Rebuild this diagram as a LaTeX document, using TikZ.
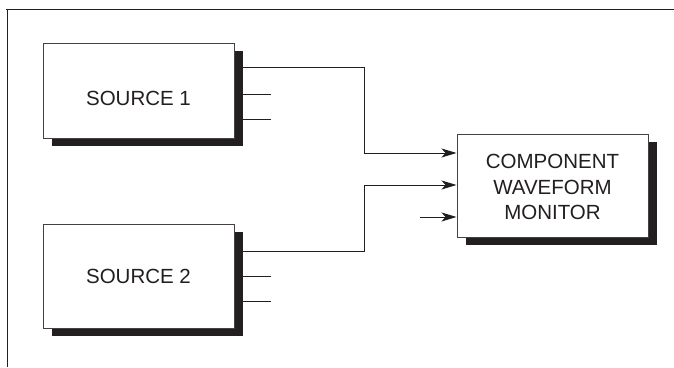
\documentclass[tikz,border=0pt]{standalone}
\usepackage{fontspec}
\setmainfont{Liberation Sans}
\usetikzlibrary{shadows,arrows.meta}
\definecolor{ink}{HTML}{231F20}
\begin{document}
\begin{tikzpicture}[x=1pt,y=-1pt,
  blk/.style={draw=ink!85, line width=1pt, fill=white, rectangle, inner sep=0pt,
    minimum width=191pt, font=\fontsize{20.5}{25.5}\selectfont, text=ink, align=center,
    drop shadow={shadow xshift=8.5pt, shadow yshift=-7.5pt, fill=ink, opacity=1}},
  wire/.style={draw=ink, line width=1pt},
  arr/.style={wire, -{Stealth[length=15pt,width=9pt,inset=4pt]}},
  frame/.style={draw=ink, line width=1.7pt}]
\useasboundingbox (0,0) rectangle (674,367);
\fill[white] (0,0) rectangle (674,367);
% frame
\draw[frame] (6,9.5) -- (674,9.5);
\draw[frame] (7.5,9.5) -- (7.5,367);
% blocks
\node[blk, minimum height=95pt] (s1) at (138.5,90.5) {\raisebox{-8pt}[\height][\depth]{SOURCE 1}};
\node[blk, minimum height=104pt] (s2) at (138.5,276) {SOURCE 2};
\node[blk, minimum height=103pt] (mon) at (552.5,185.5) {\raisebox{-3.5pt}[\height][\depth]{\begin{tabular}{@{}c@{}}COMPONENT\\WAVEFORM\\MONITOR\end{tabular}}};
% coordinates
\coordinate (s1a) at (243,67);
\coordinate (s1b) at (243,94);
\coordinate (s1c) at (243,119);
\coordinate (s1be) at (271,94);
\coordinate (s1ce) at (271,119);
\coordinate (s2a) at (243,251);
\coordinate (s2b) at (243,276);
\coordinate (s2c) at (243,301);
\coordinate (s2be) at (271,276);
\coordinate (s2ce) at (271,301);
\coordinate (j1) at (364,67);
\coordinate (j2) at (364,251);
\coordinate (m1) at (mon.west |- 0,153);
\coordinate (m2) at (mon.west |- 0,185);
\coordinate (m3) at (mon.west |- 0,217);
\coordinate (m3s) at (420,217);
% stubs
\draw[wire] (s1b) -- (s1be);
\draw[wire] (s1c) -- (s1ce);
\draw[wire] (s2b) -- (s2be);
\draw[wire] (s2c) -- (s2ce);
% connectors
\draw[arr] (s1a) -- (j1) |- (m1);
\draw[arr] (s2a) -- (j2) |- (m2);
\draw[arr] (m3s) -- (m3);
\end{tikzpicture}
\end{document}
